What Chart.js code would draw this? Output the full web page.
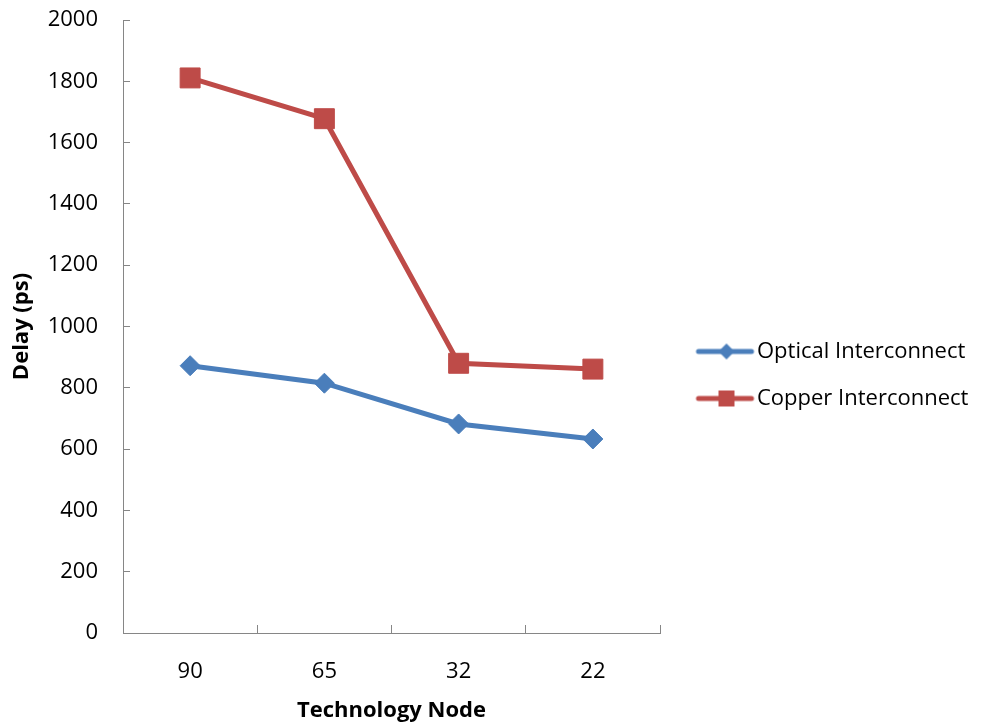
<!DOCTYPE html>
<html>
<head>
<meta charset="utf-8">
<script src="https://cdn.jsdelivr.net/npm/chart.js@4.4.0/dist/chart.umd.min.js"></script>
<style>
  html, body { margin: 0; padding: 0; background: #ffffff; }
  #wrap { width: 989px; height: 724px; }
</style>
</head>
<body>
<div id="wrap"><canvas id="chart" width="989" height="724"></canvas></div>
<script>
// Technology nodes (nm) and measured delay per interconnect type (ps)
const nodes = ['90', '65', '32', '22'];
const opticalDelay = [872, 815, 682, 633];
const copperDelay = [1811, 1678, 880, 861];
const seriesNames = ['Optical Interconnect', 'Copper Interconnect'];
const delayMin = 0;
const delayMax = 2000;
const delayStep = 200;

const BLUE = '#4A7EBB';
const RED = '#BE4B48';
const AXIS = '#868686';
const FONT = '"Open Sans"';
const FS = 22;

// Legend swatch: a short line with the series marker in the middle
const ICON_W = 80, ICON_H = 26;
function legendIcon(color, shape) {
  const c = document.createElement('canvas');
  c.width = ICON_W; c.height = ICON_H;
  const g = c.getContext('2d');
  const cy = ICON_H / 2;
  g.strokeStyle = color;
  g.lineWidth = 5;
  g.lineCap = 'round';
  g.beginPath(); g.moveTo(23, cy); g.lineTo(76, cy); g.stroke();
  g.fillStyle = color;
  const mx = 51;
  g.beginPath();
  if (shape === 'diamond') {
    g.moveTo(mx - 8, cy); g.lineTo(mx, cy - 8); g.lineTo(mx + 8, cy); g.lineTo(mx, cy + 8);
  } else {
    g.rect(mx - 8, cy - 8, 16, 16);
  }
  g.closePath(); g.fill();
  return c;
}
const icons = [legendIcon(BLUE, 'diamond'), legendIcon(RED, 'square')];

const BOX_W = 61, LEG_PAD = 25;
const LEGEND_W = 989 - 660;

// Give the right-hand legend a fixed column width instead of the default half-width cap
const legendWidthPlugin = {
  id: 'legendWidth',
  beforeLayout(chart) {
    const lg = chart.legend;
    if (lg && !lg.__fixedWidth) {
      const fit = lg.fit.bind(lg);
      lg.fit = function () { fit(); this.width = LEGEND_W; };
      lg.__fixedWidth = true;
    }
  }
};

Chart.defaults.font.family = FONT;
Chart.defaults.color = '#000000';

new Chart(document.getElementById('chart'), {
  type: 'line',
  plugins: [legendWidthPlugin],
  data: {
    labels: nodes,
    datasets: [
      {
        label: seriesNames[0],
        data: opticalDelay,
        borderColor: BLUE,
        backgroundColor: BLUE,
        borderWidth: 5,
        pointStyle: 'rectRot',
        pointRadius: 10,
        pointHoverRadius: 10,
        pointBorderWidth: 1,
        tension: 0,
        fill: false
      },
      {
        label: seriesNames[1],
        data: copperDelay,
        borderColor: RED,
        backgroundColor: RED,
        borderWidth: 5,
        pointStyle: 'rect',
        pointRadius: 14.1,
        pointHoverRadius: 14.1,
        pointBorderWidth: 1,
        tension: 0,
        fill: false
      }
    ]
  },
  options: {
    responsive: false,
    animation: false,
    events: [],
    layout: { padding: { top: 20, right: 0, bottom: 0, left: 0 } },
    plugins: {
      tooltip: { enabled: false },
      legend: {
        display: true,
        position: 'right',
        align: 'center',
        title: { display: true, text: '', font: { size: 5, lineHeight: 1.2 }, padding: 0 },
        labels: {
          usePointStyle: true,
          pointStyleWidth: BOX_W,
          padding: LEG_PAD,
          color: '#000000',
          font: { size: FS, family: FONT },
          generateLabels(chart) {
            const items = Chart.defaults.plugins.legend.labels.generateLabels(chart);
            items.forEach((it, i) => { it.pointStyle = icons[i]; });
            return items;
          }
        }
      }
    },
    scales: {
      x: {
        type: 'category',
        offset: true,
        afterFit(scale) { scale.height = 91; },
        border: { color: AXIS, width: 1 },
        grid: { offset: true, drawOnChartArea: false, drawTicks: true, tickLength: -8, color: AXIS },
        ticks: { padding: 34, font: { size: FS }, color: '#000000' },
        title: {
          display: true,
          text: 'Technology Node',
          font: { size: FS, weight: 'bold' },
          color: '#000000',
          padding: { top: 0, bottom: 0 }
        }
      },
      y: {
        min: delayMin,
        max: delayMax,
        afterFit(scale) { scale.width = 123; scale.paddingTop = 0; scale.paddingBottom = 0; },
        border: { color: AXIS, width: 1 },
        grid: { drawOnChartArea: false, drawTicks: true, tickLength: -7, color: AXIS },
        ticks: {
          stepSize: delayStep,
          padding: 32,
          font: { size: FS },
          color: '#000000',
          callback: (v) => String(v)
        },
        title: {
          display: true,
          text: 'Delay (ps)',
          font: { size: FS, weight: 'bold' },
          color: '#000000',
          padding: { top: 9, bottom: 0 }
        }
      }
    }
  }
});
</script>
</body>
</html>
